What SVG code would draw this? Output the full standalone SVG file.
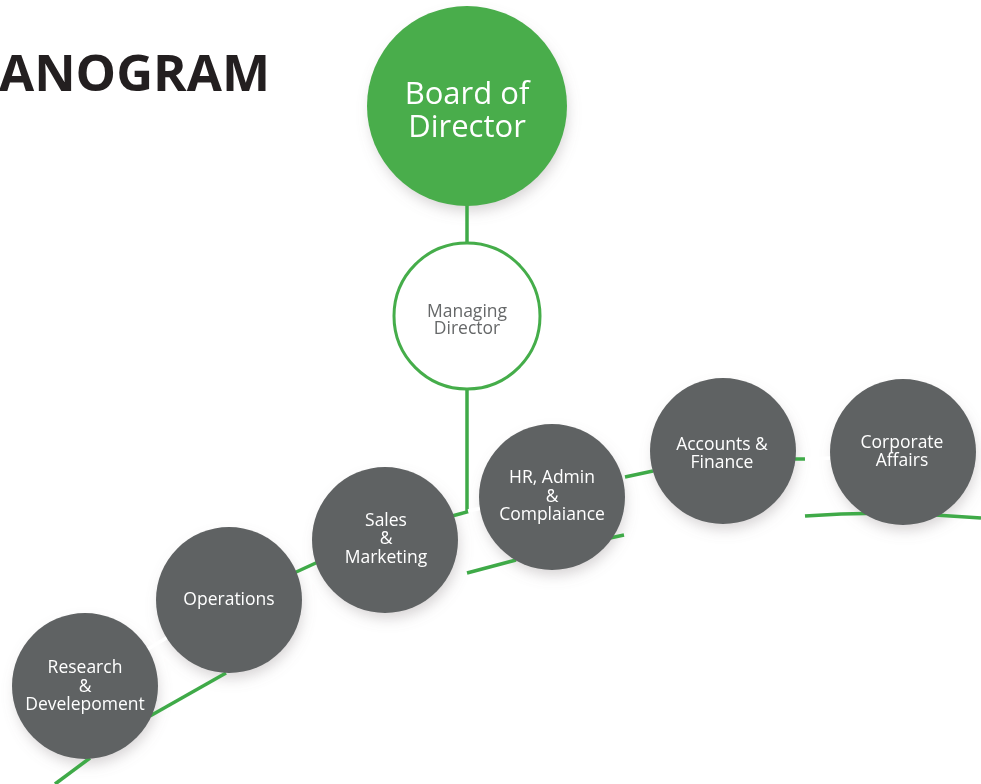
<svg xmlns="http://www.w3.org/2000/svg" width="981" height="784" viewBox="0 0 981 784">
<style>
.title{font-family:"Open Sans","Liberation Sans",sans-serif;font-weight:bold;font-size:50px;fill:#231f20}
.gray{fill:#5f6263}
.lbl{font-family:"Open Sans","Liberation Sans",sans-serif;font-size:17.5px;fill:#ffffff;text-anchor:middle}
.big{font-family:"Open Sans","Liberation Sans",sans-serif;font-size:31px;fill:#ffffff;text-anchor:middle}
.md{font-family:"Open Sans","Liberation Sans",sans-serif;font-size:17.5px;fill:#666869;text-anchor:middle}
.g{stroke:#3faa48;stroke-width:3.5;fill:none;stroke-linecap:butt}
.w{stroke:#ffffff;stroke-width:3.5;fill:none}
.sh{fill:#8a7f80;opacity:0.35}
</style>
<defs>
<filter id="blur" x="-30%" y="-30%" width="160%" height="160%">
<feGaussianBlur stdDeviation="7"/>
</filter>
</defs>
<rect width="981" height="784" fill="#ffffff"/>
<text class="title" x="-1" y="91" textLength="271" lengthAdjust="spacingAndGlyphs">ANOGRAM</text>
<g id="shadows" filter="url(#blur)">
<circle class="sh" cx="469" cy="113" r="98"/>
<circle class="sh" cx="87" cy="693" r="71"/>
<circle class="sh" cx="231" cy="607" r="71"/>
<circle class="sh" cx="388" cy="547" r="71"/>
<circle class="sh" cx="554" cy="504" r="71"/>
<circle class="sh" cx="725" cy="458" r="71"/>
<circle class="sh" cx="905" cy="459" r="71"/>
</g>
<g id="connectors">
<line class="g" x1="467" y1="200" x2="467" y2="245" stroke-width="4"/>
<polyline class="g" points="467,388 467,512 452,516"/>
<line class="w" x1="468" y1="511" x2="482" y2="508"/>
<line class="g" x1="294" y1="573" x2="318" y2="562"/>
<line class="w" x1="148" y1="649" x2="168" y2="637"/>
<line class="g" x1="625" y1="477" x2="653" y2="471"/>
<line class="g" x1="794" y1="459" x2="805" y2="459"/>
<line class="w" x1="805" y1="459" x2="832" y2="458"/>
<line class="g" x1="55" y1="784" x2="90" y2="758"/>
<line class="g" x1="150" y1="716" x2="226" y2="673"/>
<line class="g" x1="467" y1="573" x2="516" y2="560"/>
<line class="g" x1="610" y1="538" x2="624" y2="535"/>
<path class="g" d="M805,516 Q870,511 935,515 L981,518"/>
</g>
<g id="node-board">
<circle cx="467" cy="106" r="100" fill="#49ad4b"/>
<text class="big" x="467" y="104">Board of</text>
<text class="big" x="467" y="137">Director</text>
</g>
<g id="node-md">
<circle cx="467" cy="316" r="73" fill="#ffffff" stroke="#45ad4a" stroke-width="3"/>
<text class="md" x="467" y="317">Managing</text>
<text class="md" x="467" y="334">Director</text>
</g>
<g id="node-rd">
<circle class="gray" cx="85" cy="686" r="73"/>
<text class="lbl" x="85" y="673">Research</text>
<text class="lbl" x="85" y="692">&amp;</text>
<text class="lbl" x="85" y="710">Develepoment</text>
</g>
<g id="node-ops">
<circle class="gray" cx="229" cy="600" r="73"/>
<text class="lbl" x="229" y="605">Operations</text>
</g>
<g id="node-sales">
<circle class="gray" cx="385" cy="540" r="73"/>
<text class="lbl" x="386" y="526">Sales</text>
<text class="lbl" x="386" y="544">&amp;</text>
<text class="lbl" x="386" y="563">Marketing</text>
</g>
<g id="node-hr">
<circle class="gray" cx="552" cy="497" r="73"/>
<text class="lbl" x="552" y="483">HR, Admin</text>
<text class="lbl" x="552" y="502">&amp;</text>
<text class="lbl" x="552" y="520">Complaiance</text>
</g>
<g id="node-accounts">
<circle class="gray" cx="723" cy="451" r="73"/>
<text class="lbl" x="722" y="450">Accounts &amp;</text>
<text class="lbl" x="722" y="468">Finance</text>
</g>
<g id="node-corporate">
<circle class="gray" cx="903" cy="452" r="73"/>
<text class="lbl" x="902" y="448">Corporate</text>
<text class="lbl" x="902" y="466">Affairs</text>
</g>
</svg>
